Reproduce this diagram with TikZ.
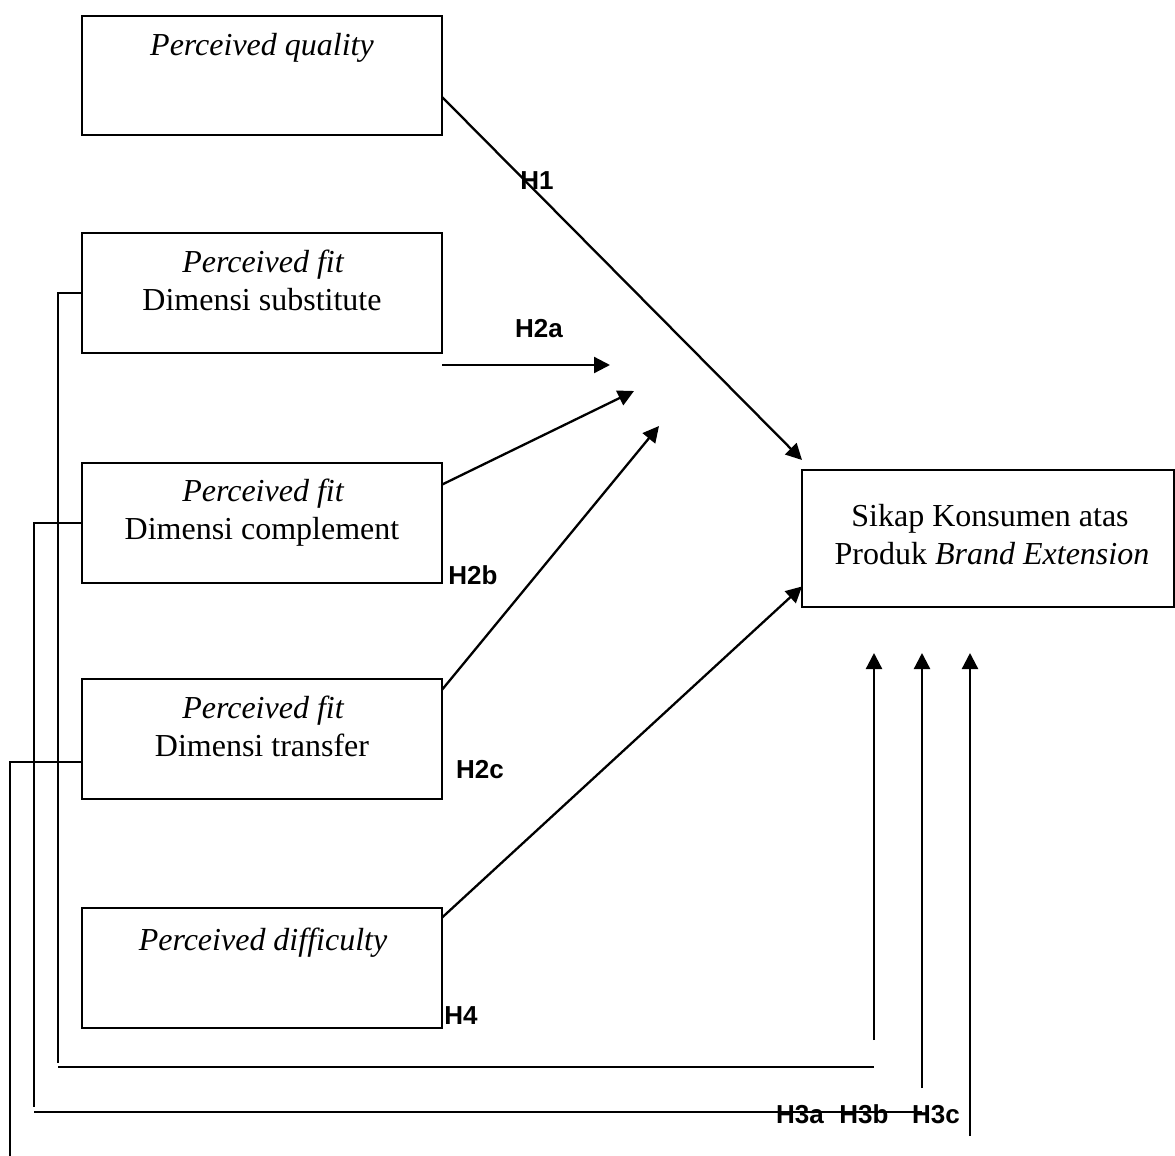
\documentclass[tikz,border=0pt]{standalone}
\usepackage{fontspec}
\setmainfont{Liberation Serif}
\newfontfamily\labfont{Liberation Sans}
\usetikzlibrary{arrows.meta,calc}
\begin{document}
\begin{tikzpicture}[x=1pt,y=-1pt,
  box/.style={draw, rectangle, inner sep=0pt, outer sep=0pt, line width=2.2pt},
  txt/.style={anchor=base, inner sep=0pt, font=\fontsize{32}{38}\selectfont},
  hlab/.style={inner sep=0pt, font=\labfont\bfseries\fontsize{26}{30}\selectfont},
  arr/.style={-{Triangle[length=16pt,width=16pt]}, line width=2.3pt},
  link/.style={line width=2.3pt}]
\useasboundingbox (0,0) rectangle (1175,1156);

% boxes
\node[box, minimum width=360pt, minimum height=119pt] (b1) at (262,75.5) {};
\node[box, minimum width=360pt, minimum height=120pt] (b2) at (262,293) {};
\node[box, minimum width=360pt, minimum height=120pt] (b3) at (262,523) {};
\node[box, minimum width=360pt, minimum height=120pt] (b4) at (262,739) {};
\node[box, minimum width=360pt, minimum height=120pt] (b5) at (262,968) {};
\node[box, minimum width=372pt, minimum height=137pt] (tg) at (988,538.5) {};

% box texts
\node[txt] (t1) at (262,56) {\itshape Perceived quality};
\node[txt] (t2a) at (263,272) {\itshape Perceived fit};
\node[txt] (t2b) at (262,310) {Dimensi substitute};
\node[txt] (t3a) at (263,501) {\itshape Perceived fit};
\node[txt] (t3b) at (262,539) {Dimensi complement};
\node[txt] (t4a) at (263,718) {\itshape Perceived fit};
\node[txt] (t4b) at (262,756) {Dimensi transfer};
\node[txt] (t5) at (263,950) {\itshape Perceived difficulty};
\node[txt] (tga) at (990,526) {Sikap Konsumen atas};
\node[txt] (tgb) at (992,564) {Produk \itshape Brand Extension};

% arrow end points
\coordinate (h1s) at ($(b1.north east)!0.68!(b1.south east)$);
\coordinate (h1t) at (802,460);
\coordinate (h2as) at (442,365);
\coordinate (h2at) at (610,365);
\coordinate (h2bs) at ($(b3.north east)!0.18!(b3.south east)$);
\coordinate (h2bt) at (634,391);
\coordinate (h2cs) at ($(b4.north east)!0.09!(b4.south east)$);
\coordinate (h2ct) at (659,426);
\coordinate (h4s) at ($(b5.north east)!0.08!(b5.south east)$);
\coordinate (h4t) at ($(tg.north west)!0.85!(tg.south west)$);

\draw[arr] (h1s) -- (h1t);
\draw[arr] (h2as) -- (h2at);
\draw[arr] (h2bs) -- (h2bt);
\draw[arr] (h2cs) -- (h2ct);
\draw[arr] (h4s) -- (h4t);

% left links
\coordinate (la) at (58,1063);
\coordinate (la1) at (58,1067);
\coordinate (la2) at (874,1067);
\coordinate (lb) at (34,1107);
\coordinate (lb1) at (34,1112);
\coordinate (lb2) at (922,1112);
\coordinate (c4) at ($(b4.north west)!0.69!(b4.south west)$);
\coordinate (lc) at (10,1156);

\draw[link] (b2.west) -| (la);
\draw[link] (la1) -- (la2);
\draw[link] (b3.west) -| (lb);
\draw[link] (lb1) -- (lb2);
\draw[link] (c4) -| (lc);

% vertical arrows
\coordinate (v1s) at (874,1040);
\coordinate (v1t) at (874,653);
\coordinate (v2s) at (922,1088);
\coordinate (v2t) at (922,653);
\coordinate (v3s) at (970,1136);
\coordinate (v3t) at (970,653);
\draw[arr] (v1s) -- (v1t);
\draw[arr] (v2s) -- (v2t);
\draw[arr] (v3s) -- (v3t);

% labels
\node[hlab] (l1) at (537,181) {H1};
\node[hlab] (l2a) at (539,329) {H2a};
\node[hlab] (l2b) at (473,575) {H2b};
\node[hlab] (l2c) at (480,770) {H2c};
\node[hlab] (l4) at (461,1016) {H4};
\node[hlab, anchor=base] (l3a) at (800,1123) {H3a};
\node[hlab, anchor=base] (l3b) at (864,1123) {H3b};
\node[hlab, anchor=base] (l3c) at (936,1123) {H3c};
\end{tikzpicture}
\end{document}
